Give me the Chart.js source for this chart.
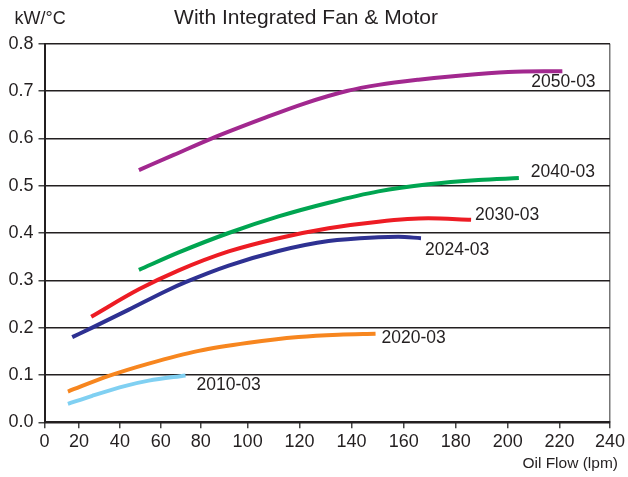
<!DOCTYPE html>
<html>
<head>
<meta charset="utf-8">
<script src="https://cdn.jsdelivr.net/npm/chart.js@4.4.1/dist/chart.umd.min.js"></script>
<style>
  html, body { margin: 0; padding: 0; background: #fff; }
</style>
</head>
<body>
<canvas id="myChart" width="628" height="477"></canvas>
<script>
// values
const seriesNames = ['2050-03', '2040-03', '2030-03', '2024-03', '2020-03', '2010-03'];

const flow2050 = [49.3, 66.5, 84.8, 105.5, 121.5, 138.2, 150.3, 165.6, 182.1, 200.2, 221.1];
const kw2050   = [0.533, 0.565, 0.600, 0.641, 0.673, 0.700, 0.713, 0.724, 0.733, 0.740, 0.742];

const flow2040 = [49.3, 69, 91.9, 111.9, 131.2, 150.3, 169.4, 188.7, 204.3];
const kw2040   = [0.322, 0.359, 0.400, 0.435, 0.464, 0.488, 0.503, 0.512, 0.516];

const flow2030 = [26, 49.3, 69, 91.9, 111.9, 131.2, 150.3, 169.4, 185.9];
const kw2030   = [0.223, 0.281, 0.321, 0.361, 0.389, 0.410, 0.424, 0.431, 0.428];

const flow2024 = [16.1, 26.5, 44.4, 62.4, 72.4, 91.9, 111.9, 131.2, 150.3, 157.9, 166.6];
const kw2024   = [0.180, 0.200, 0.238, 0.277, 0.296, 0.331, 0.362, 0.383, 0.391, 0.392, 0.389];

const flow2020 = [13.6, 34.6, 54.1, 79, 100.4, 119.6, 135, 149.2];
const kw2020   = [0.065, 0.098, 0.124, 0.151, 0.168, 0.180, 0.185, 0.187];

const flow2010 = [13.6, 26.5, 42.8, 54.1, 72.4];
const kw2010   = [0.039, 0.056, 0.077, 0.088, 0.099];

const xTicks = [0, 20, 40, 60, 80, 100, 120, 140, 160, 180, 200, 220, 240];
const yTicks = [0, 0.1, 0.2, 0.3, 0.4, 0.5, 0.6, 0.7, 0.8];

const flows = [flow2050, flow2040, flow2030, flow2024, flow2020, flow2010];
const kws = [kw2050, kw2040, kw2030, kw2024, kw2020, kw2010];
const colors = ['#a2288f', '#00a551', '#ed1c24', '#2e3192', '#f7861f', '#80d0f2'];
// where each end label sits relative to the last point of its line
const labelOffsets = [[-31, 11], [12, -6], [4, -5], [4, 12], [6, 4], [11, 10]];

// the printed flow axis is not evenly spaced: ticks sit at these fractions of the width
const tickFractions = [0, 0.0609, 0.1333, 0.2056, 0.2763, 0.3592, 0.4510,
                       0.5428, 0.6355, 0.7273, 0.8191, 0.9109, 1];

function flowToDecimal(v) {
  const n = xTicks.length;
  let i = 0;
  while (i < n - 2 && v > xTicks[i + 1]) i++;
  const t = (v - xTicks[i]) / (xTicks[i + 1] - xTicks[i]);
  return tickFractions[i] + t * (tickFractions[i + 1] - tickFractions[i]);
}
function decimalToFlow(d) {
  const n = tickFractions.length;
  let i = 0;
  while (i < n - 2 && d > tickFractions[i + 1]) i++;
  const t = (d - tickFractions[i]) / (tickFractions[i + 1] - tickFractions[i]);
  return xTicks[i] + t * (xTicks[i + 1] - xTicks[i]);
}

const LinearScale = Chart.LinearScale || Chart.registry.getScale('linear');
class FlowScale extends LinearScale {
  getPixelForValue(value) {
    if (value === null || value === undefined || isNaN(value)) return NaN;
    return this.getPixelForDecimal(flowToDecimal(value));
  }
  getValueForPixel(pixel) {
    return decimalToFlow(this.getDecimalForPixel(pixel));
  }
}
FlowScale.id = 'flow';
FlowScale.defaults = LinearScale.defaults;
Chart.register(FlowScale);

Chart.defaults.font.family = "'Liberation Sans', Arial, Helvetica, sans-serif";
Chart.defaults.color = '#231f20';

const datasets = seriesNames.map((name, i) => ({
  label: name,
  data: flows[i].map((x, j) => ({ x: x, y: kws[i][j] })),
  borderColor: colors[i],
  borderWidth: 4,
  pointRadius: 0,
  fill: false,
  cubicInterpolationMode: 'monotone',
  borderCapStyle: 'butt'
}));

const endLabels = {
  id: 'endLabels',
  afterDatasetsDraw(chart) {
    const c = chart.ctx;
    c.save();
    c.font = "17.5px 'Liberation Sans', Arial, sans-serif";
    c.fillStyle = '#231f20';
    c.textBaseline = 'middle';
    c.textAlign = 'left';
    chart.data.datasets.forEach((ds, i) => {
      const pts = chart.getDatasetMeta(i).data;
      const last = pts[pts.length - 1];
      c.fillText(ds.label, last.x + labelOffsets[i][0], last.y + labelOffsets[i][1]);
    });
    c.restore();
  }
};

const axisTitles = {
  id: 'axisTitles',
  afterDraw(chart) {
    const c = chart.ctx;
    const area = chart.chartArea;
    c.save();
    c.fillStyle = '#231f20';
    c.textBaseline = 'middle';
    c.font = "18px 'Liberation Sans', Arial, sans-serif";
    c.textAlign = 'left';
    c.fillText('kW/°C', area.left - 30, 19.5);
    c.font = "15.5px 'Liberation Sans', Arial, sans-serif";
    c.textAlign = 'right';
    c.fillText('Oil Flow (lpm)', area.right + 8, 463.5);
    c.restore();
  }
};

new Chart(document.getElementById('myChart'), {
  type: 'line',
  data: { datasets: datasets },
  options: {
    responsive: false,
    animation: false,
    layout: { padding: { left: 0, right: 16, top: 0, bottom: 0 } },
    plugins: {
      legend: { display: false },
      tooltip: { enabled: false },
      title: {
        display: true,
        text: 'With Integrated Fan & Motor',
        font: { size: 21, weight: 'normal' },
        color: '#231f20',
        padding: { top: 6, bottom: 12.5 }
      }
    },
    scales: {
      x: {
        type: 'flow',
        min: xTicks[0],
        max: xTicks[xTicks.length - 1],
        afterFit(scale) { scale.height = 54.7; },
        ticks: {
          stepSize: xTicks[1] - xTicks[0],
          autoSkip: false,
          maxRotation: 0,
          padding: 3,
          font: { size: 18 },
          color: '#231f20'
        },
        grid: {
          drawOnChartArea: true,
          color: ctx => (ctx.tick && ctx.tick.value === xTicks[xTicks.length - 1]) ? '#777' : 'rgba(0,0,0,0)',
          lineWidth: 1.5,
          tickLength: 6,
          tickColor: '#444'
        },
        border: { display: true, color: '#231f20', width: 2 }
      },
      y: {
        min: yTicks[0],
        max: yTicks[yTicks.length - 1],
        afterFit(scale) { scale.width = 44.5; },
        ticks: {
          stepSize: yTicks[1] - yTicks[0],
          padding: 5,
          font: { size: 18 },
          color: '#231f20',
          callback: v => v.toFixed(1)
        },
        grid: {
          color: '#231f20',
          lineWidth: 1.5,
          tickLength: 6,
          tickColor: '#444'
        },
        border: { display: true, color: '#231f20', width: 2 }
      }
    }
  },
  plugins: [endLabels, axisTitles]
});
</script>
</body>
</html>
